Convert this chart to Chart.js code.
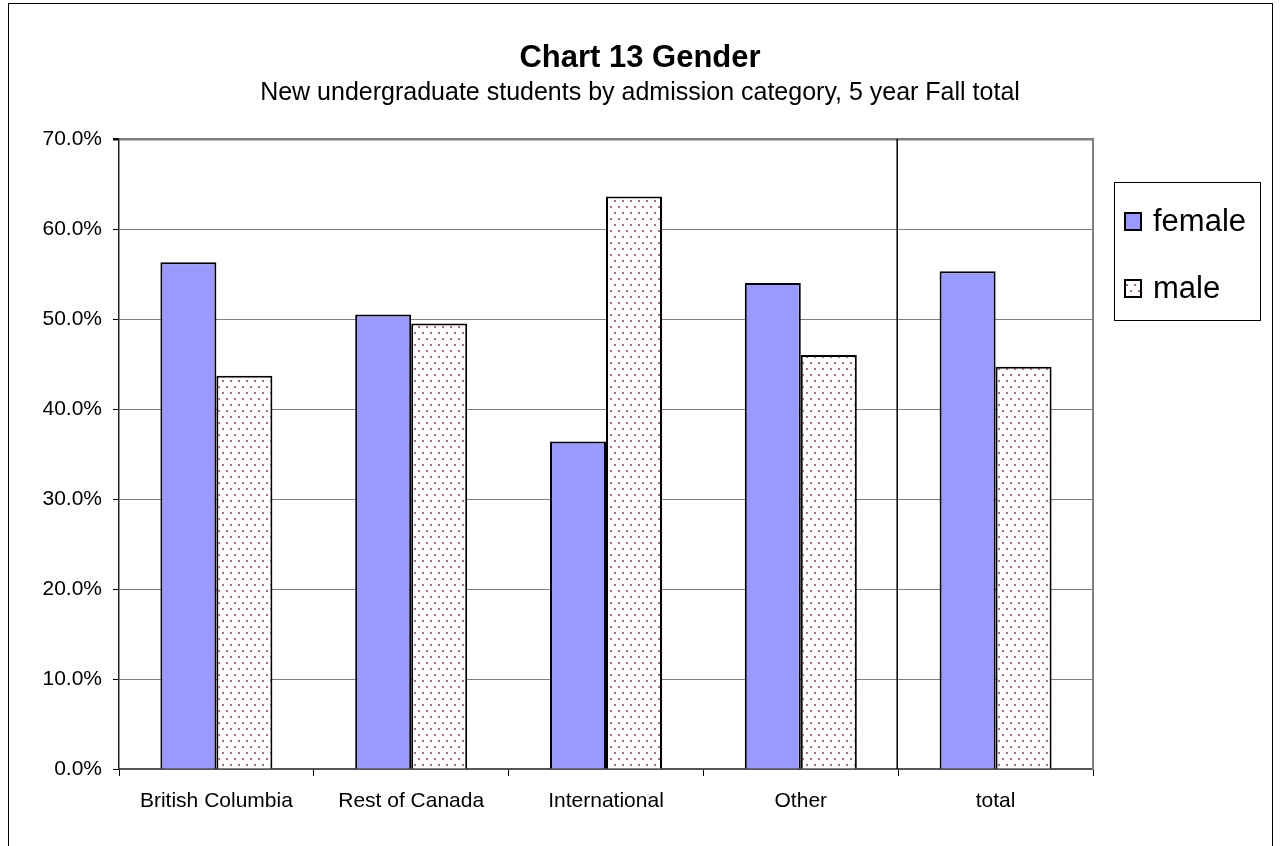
<!DOCTYPE html>
<html>
<head>
<meta charset="utf-8">
<script src="https://cdn.jsdelivr.net/npm/chart.js@4"></script>
<style>
  html, body { margin: 0; padding: 0; background: #fff; }
  canvas { display: block; }
</style>
</head>
<body>
<canvas id="chart1" width="1280" height="846" style="width:1280px;height:846px"></canvas>
<script>
const categories = ["British Columbia", "Rest of Canada", "International", "Other", "total"];
const female = [56.3, 50.5, 36.4, 54.0, 55.3];
const male = [43.7, 49.5, 63.6, 46.0, 44.7];
const yTicks = [0, 10, 20, 30, 40, 50, 60, 70];

const FONT = "'Liberation Sans', Arial, sans-serif";

// dotted fill for the male bars
const makeDots = () => {
  const c = document.createElement("canvas");
  c.width = 8;
  c.height = 12;
  const g = c.getContext("2d");
  g.fillStyle = "#fff";
  g.fillRect(0, 0, 8, 12);
  g.fillStyle = "rgba(153,51,102,0.75)";
  g.fillRect(2, 2, 2, 2);
  g.fillRect(6, 8, 2, 2);
  return g.createPattern(c, "repeat");
};
const dots = makeDots();

const frame = {
  id: "frame",
  beforeDraw(chart) {
    const ctx = chart.ctx;
    ctx.save();
    ctx.strokeStyle = "#000";
    ctx.lineWidth = 1;
    ctx.strokeRect(8.5, 3.5, 1264, 900);
    ctx.restore();
  },
  afterDatasetsDraw(chart) {
    const { ctx, chartArea, scales } = chart;
    ctx.save();
    // separator between "Other" and "total"
    const xs = scales.x;
    const sep = (xs.getPixelForValue(3) + xs.getPixelForValue(4)) / 2 - 1;
    ctx.strokeStyle = "#000";
    ctx.lineWidth = 1.5;
    ctx.beginPath();
    ctx.moveTo(sep, chartArea.top);
    ctx.lineTo(sep, chartArea.bottom);
    ctx.stroke();
    // right edge of the plot area
    ctx.strokeStyle = "#808080";
    ctx.lineWidth = 2;
    ctx.beginPath();
    ctx.moveTo(chartArea.right, chartArea.top - 1);
    ctx.lineTo(chartArea.right, chartArea.bottom + 1);
    ctx.stroke();
    ctx.restore();
  },
  afterDraw(chart) {
    // legend box on the right
    const ctx = chart.ctx;
    ctx.save();
    ctx.strokeStyle = "#000";
    ctx.lineWidth = 1;
    ctx.strokeRect(1114.5, 182.5, 146, 138);
    const rows = [221, 288];
    chart.data.datasets.forEach((ds, i) => {
      const y = rows[i];
      ctx.fillStyle = ds.backgroundColor;
      ctx.fillRect(1125, y - 8, 16, 17);
      ctx.strokeStyle = "#000";
      ctx.lineWidth = 2;
      ctx.strokeRect(1125, y - 8, 16, 17);
      ctx.fillStyle = "#000";
      ctx.font = "31px " + FONT;
      ctx.textBaseline = "middle";
      ctx.textAlign = "left";
      ctx.fillText(ds.label, 1153, y + 1);
    });
    ctx.restore();
  }
};

new Chart(document.getElementById("chart1"), {
  type: "bar",
  data: {
    labels: categories,
    datasets: [
      {
        label: "female",
        data: female,
        backgroundColor: "#9999FF",
        borderColor: "#000",
        borderWidth: 2
      },
      {
        label: "male",
        data: male,
        backgroundColor: dots,
        borderColor: "#000",
        borderWidth: 2
      }
    ]
  },
  options: {
    responsive: false,
    animation: false,
    layout: { padding: 0 },
    categoryPercentage: 0.575,
    barPercentage: 1,
    plugins: {
      legend: { display: false },
      tooltip: { enabled: false },
      title: {
        display: true,
        text: "Chart 13 Gender",
        color: "#000",
        font: { family: FONT, size: 31, weight: "bold", lineHeight: 1.2 },
        padding: { top: 39.4, bottom: 1.4 }
      },
      subtitle: {
        display: true,
        text: "New undergraduate students by admission category, 5 year Fall total",
        color: "#000",
        font: { family: FONT, size: 25, lineHeight: 1.2 },
        padding: { top: 0, bottom: 31 }
      }
    },
    scales: {
      x: {
        offset: true,
        afterFit: (s) => { s.height = 77; },
        grid: {
          offset: true,
          drawOnChartArea: false,
          drawTicks: true,
          tickLength: 7,
          tickColor: "#000"
        },
        border: { display: true, color: "#555", width: 2 },
        ticks: {
          color: "#000",
          padding: 13,
          font: { family: FONT, size: 21 }
        }
      },
      y: {
        min: 0,
        max: 70,
        afterFit: (s) => { s.width = 119; },
        afterBuildTicks: (s) => { s.ticks = yTicks.map((v) => ({ value: v })); },
        grid: {
          color: "#808080",
          lineWidth: (c) => (c.tick && c.tick.value === 70 ? 2.5 : 1),
          tickLength: 6,
          tickColor: "#000"
        },
        border: { display: true, color: "#222", width: 1.5 },
        ticks: {
          color: "#000",
          padding: 11,
          font: { family: FONT, size: 21 },
          callback: (v) => v.toFixed(1) + "%"
        }
      },
      // empty right axis that keeps room for the legend box
      side: {
        position: "right",
        min: 0,
        max: 70,
        afterFit: (s) => { s.width = 187; },
        grid: { display: false },
        border: { display: false },
        ticks: { display: false }
      }
    }
  },
  plugins: [frame]
});
</script>
</body>
</html>
